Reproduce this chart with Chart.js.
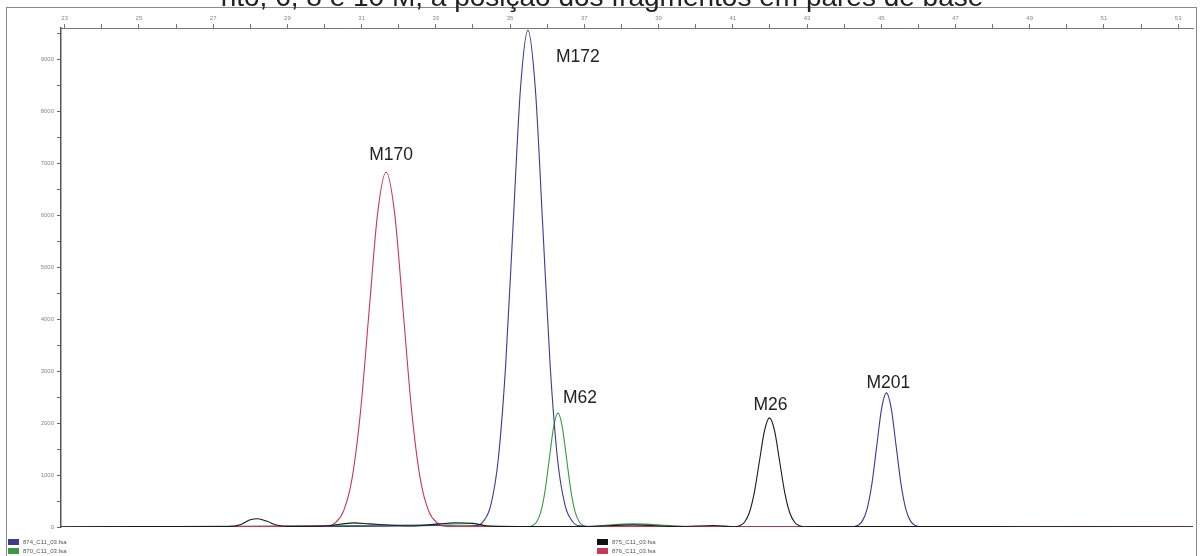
<!DOCTYPE html>
<html>
<head>
<meta charset="utf-8">
<script src="https://cdn.jsdelivr.net/npm/chart.js@4"></script>
<style>
  html, body { margin: 0; padding: 0; background: #fff; }
  #wrap { position: relative; width: 1203px; height: 556px; overflow: hidden; }
  .leg { position: absolute; font: 6px Arial, sans-serif; color: #555; white-space: nowrap; }
  .leg span { display: inline-block; width: 11px; height: 6px; margin-right: 4px; vertical-align: middle; }
</style>
</head>
<body>
<div id="wrap">
  <canvas id="grafico" width="1203" height="556"></canvas>
  <div class="leg" style="left:8px;top:539px"><span style="background:#3b3b93"></span>874_C11_03.fsa</div>
  <div class="leg" style="left:8px;top:548px"><span style="background:#3a9a45"></span>870_C11_03.fsa</div>
  <div class="leg" style="left:597px;top:539px"><span style="background:#111"></span>875_C11_03.fsa</div>
  <div class="leg" style="left:597px;top:548px"><span style="background:#c8385a"></span>876_C11_03.fsa</div>
</div>
<script>
const tituloLinha = 'nto, 6, 8 e 10 M, a posição dos fragmentos em pares de base';
const xTickLabels = [23, 25, 27, 29, 31, 33, 35, 37, 39, 41, 43, 45, 47, 49, 51, 53];
const yTickLabels = [0, 1000, 2000, 3000, 4000, 5000, 6000, 7000, 8000, 9000];
const nomesSeries = ['874_C11_03.fsa', '870_C11_03.fsa', '875_C11_03.fsa', '876_C11_03.fsa'];

const azulX = [22.9, 25, 27, 29, 30.5, 32, 33, 33.8, 34.08, 34.28, 34.48, 34.68, 34.88, 35.08, 35.28, 35.48, 35.68, 35.88, 36.08, 36.28, 36.48, 36.68, 36.88, 37.3, 38.5, 40, 42, 43.5, 44.23, 44.36, 44.49, 44.62, 44.75, 44.88, 45.01, 45.14, 45.27, 45.4, 45.53, 45.66, 45.79, 45.92, 46.05, 47, 49, 51, 53.4];
const azulY = [0, 10, 5, 15, 10, 20, 30, 10, 21, 106, 420, 1294, 3104, 5798, 8437, 9560, 8437, 5798, 3104, 1294, 420, 106, 21, 10, 15, 5, 10, 5, 6, 29, 113, 349, 838, 1565, 2277, 2580, 2277, 1565, 838, 349, 113, 29, 6, 10, 5, 10, 0];

const verdeX = [22.9, 26, 29, 31, 33, 34.5, 35.2, 35.485, 35.6, 35.715, 35.83, 35.945, 36.06, 36.175, 36.29, 36.405, 36.52, 36.635, 36.75, 36.865, 36.98, 37.095, 37.5, 38.3, 40, 44, 48, 53.4];
const verdeY = [0, 10, 20, 30, 40, 20, 10, 5, 24, 96, 296, 711, 1328, 1933, 2190, 1933, 1328, 711, 296, 96, 24, 5, 30, 60, 10, 10, 5, 0];

const pretoX = [22.9, 25, 27.4, 27.75, 28.0, 28.2, 28.45, 28.7, 29.1, 30, 30.8, 31.2, 32.3, 33.1, 33.5, 34.0, 34.4, 35, 37, 38.3, 39.5, 40.5, 41.045, 41.18, 41.315, 41.45, 41.585, 41.72, 41.855, 41.99, 42.125, 42.26, 42.395, 42.53, 42.665, 42.8, 42.935, 43.5, 46, 49, 53.4];
const pretoY = [0, 10, 10, 50, 140, 160, 110, 40, 10, 20, 80, 60, 20, 60, 80, 70, 20, 10, 10, 40, 10, 30, 5, 23, 92, 284, 682, 1274, 1853, 2100, 1853, 1274, 682, 284, 92, 23, 5, 10, 10, 5, 0];

const vermelhoX = [22.9, 26, 28.5, 29.6, 30.05, 30.28, 30.51, 30.74, 30.97, 31.2, 31.43, 31.66, 31.89, 32.12, 32.35, 32.58, 32.81, 33.04, 33.27, 33.6, 35, 38, 42, 46, 50, 53.4];
const vermelhoY = [0, 5, 10, 20, 15, 76, 300, 925, 2220, 4140, 6030, 6830, 6030, 4140, 2220, 925, 300, 76, 15, 10, 5, 10, 5, 10, 5, 0];

const picosNomes = ['M170', 'M172', 'M62', 'M26', 'M201'];
const picosSerie = [3, 0, 1, 2, 0];
const picosPb = [31.66, 35.48, 36.29, 41.99, 45.14];

function pontos(xs, ys) {
    return xs.map((x, i) => ({ x: x, y: ys[i] }));
}

// offsets dos rótulos em pixels: [dx, dy, alinhamento]
const rotuloEstilo = [[5, -12, 'center'], [28, 32, 'left'], [22, -10, 'center'], [1, -8, 'center'], [2, -5, 'center']];

const moldura = {
    id: 'moldura',
    afterDraw(chart) {
        const ctx = chart.ctx;
        ctx.save();
        ctx.strokeStyle = '#8a8a8a';
        ctx.lineWidth = 1;
        ctx.strokeRect(6.5, 7.5, 1190, 600);
        ctx.fillStyle = '#222';
        ctx.font = '28px "Liberation Sans", Arial, sans-serif';
        ctx.textAlign = 'center';
        ctx.textBaseline = 'alphabetic';
        ctx.fillText(tituloLinha, 602, 6);

        const sx = chart.scales.x, sy = chart.scales.y;
        ctx.font = '17.5px "Liberation Sans", Arial, sans-serif';
        ctx.fillStyle = '#222';
        picosNomes.forEach((nome, i) => {
            const ds = chart.data.datasets[picosSerie[i]].data;
            const p = ds.find(d => Math.abs(d.x - picosPb[i]) < 1e-6);
            const px = sx.getPixelForValue(p.x);
            const py = sy.getPixelForValue(p.y);
            const [dx, dy, al] = rotuloEstilo[i];
            ctx.textAlign = al;
            ctx.fillText(nome, px + dx, py + dy);
        });
        ctx.restore();
    }
};

const cores = ['#3b3b93', '#3a9a45', '#1a1a1a', '#c8385a'];
const ordem = [2, 3, 0, 1];
const seriesX = [azulX, verdeX, pretoX, vermelhoX];
const seriesY = [azulY, verdeY, pretoY, vermelhoY];

new Chart(document.getElementById('grafico'), {
    type: 'line',
    data: {
        datasets: nomesSeries.map((nome, i) => ({
            label: nome,
            data: pontos(seriesX[i], seriesY[i]),
            borderColor: cores[i],
            borderWidth: 1.1,
            pointRadius: 0,
            fill: false,
            order: ordem[i],
            cubicInterpolationMode: 'monotone'
        }))
    },
    options: {
        responsive: false,
        animation: false,
        layout: { padding: { left: 6, top: 7, right: 10, bottom: 29 } },
        plugins: { legend: { display: false }, tooltip: { enabled: false } },
        scales: {
            x: {
                type: 'linear',
                position: 'top',
                min: 22.9,
                max: 53.4,
                afterBuildTicks: axis => {
                    const t = [];
                    for (let v = 23; v <= 53; v++) t.push({ value: v });
                    axis.ticks = t;
                },
                afterFit: axis => { axis.height = 21; },
                grid: { drawOnChartArea: false, tickLength: 4, color: '#777' },
                border: { color: '#777', width: 1 },
                ticks: {
                    font: { size: 6 },
                    color: '#888',
                    padding: 2,
                    maxRotation: 0,
                    autoSkip: false,
                    callback: v => xTickLabels.includes(v) ? String(v) : ''
                }
            },
            y: {
                min: 0,
                max: 9600,
                afterBuildTicks: axis => {
                    const t = [];
                    for (let v = 0; v <= 9500; v += 500) t.push({ value: v });
                    axis.ticks = t;
                },
                afterFit: axis => { axis.width = 55; },
                grid: { drawOnChartArea: false, tickLength: 4, color: '#666' },
                border: { color: '#555', width: 1.5 },
                ticks: {
                    font: { size: 6 },
                    color: '#888',
                    padding: 3,
                    autoSkip: false,
                    callback: v => yTickLabels.includes(v) ? String(v) : ''
                }
            }
        }
    },
    plugins: [moldura]
});
</script>
</body>
</html>
